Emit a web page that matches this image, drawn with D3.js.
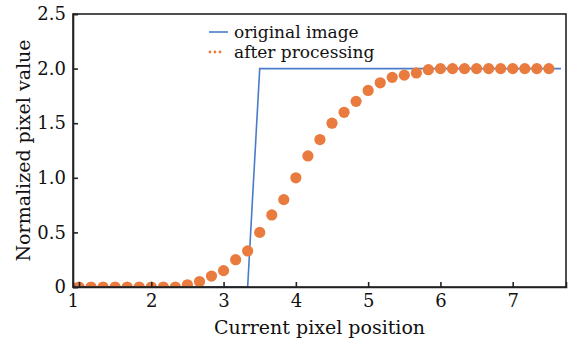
<!DOCTYPE html>
<html>
<head>
<meta charset="utf-8">
<script src="https://cdn.jsdelivr.net/npm/d3@7"></script>
<style>
  body { margin: 0; background: #fff; }
</style>
</head>
<body>
<div id="chart"></div>
<script>
// data
var stepX = [1, 3.333, 3.5, 7.667];            // original image (step edge)
var stepY = [0, 0, 2, 2];

var procX = [1.000, 1.167, 1.333, 1.500, 1.667, 1.833, 2.000, 2.167, 2.333, 2.500,
             2.667, 2.833, 3.000, 3.167, 3.333, 3.500, 3.667, 3.833, 4.000, 4.167,
             4.333, 4.500, 4.667, 4.833, 5.000, 5.167, 5.333, 5.500, 5.667, 5.833,
             6.000, 6.167, 6.333, 6.500, 6.667, 6.833, 7.000, 7.167, 7.333, 7.500];
var procY = [0, 0, 0, 0, 0, 0, 0, 0, 0, 0.02,
             0.05, 0.10, 0.15, 0.25, 0.33, 0.50, 0.66, 0.80, 1.00, 1.20,
             1.35, 1.50, 1.60, 1.70, 1.80, 1.87, 1.92, 1.94, 1.96, 1.99,
             2, 2, 2, 2, 2, 2, 2, 2, 2, 2];

var xTicks = [1, 2, 3, 4, 5, 6, 7];
var yTicks = [0, 0.5, 1.0, 1.5, 2.0, 2.5];
var seriesNames = ["original image", "after processing"];
var blue = "#4a7cc9", orange = "#ea7b3f";
var serif = "'DejaVu Serif', 'Liberation Serif', serif";

// set the dimensions and margins of the graph
var margin = {top: 14, right: 14, bottom: 54, left: 73},
  width = 580 - margin.left - margin.right,
  height = 341 - margin.top - margin.bottom;

var svg = d3.select("#chart")
.append("svg")
  .attr("width", 580)
  .attr("height", 341)
.append("g")
  .attr("transform", "translate(" + margin.left + "," + margin.top + ")");

var x = d3.scaleLinear().domain([0.917, 7.737]).range([0, width]);
var y = d3.scaleLinear().domain([0, 2.5]).range([height, 0]);

svg.append("clipPath").attr("id", "plotclip")
  .append("rect").attr("width", width).attr("height", height);

// line: original image
var line = d3.line().x((d) => x(d[0])).y((d) => y(d[1]));
svg.append("path")
  .datum(d3.zip(stepX, stepY))
  .attr("clip-path", "url(#plotclip)")
  .attr("d", line)
  .attr("fill", "none")
  .attr("stroke", blue)
  .attr("stroke-width", 1.6);

// dots: after processing
svg.append("g")
  .attr("clip-path", "url(#plotclip)")
  .selectAll("circle")
  .data(d3.zip(procX, procY))
  .enter()
  .append("circle")
  .attr("cx", (d) => x(d[0]))
  .attr("cy", (d) => y(d[1]))
  .attr("r", 5.6)
  .attr("fill", orange);

// axes, ticks pointing inward
var xAxis = svg.append("g")
  .attr("transform", "translate(0," + height + ")")
  .call(d3.axisBottom(x).tickValues(xTicks).tickSize(-5).tickPadding(7).tickFormat(d3.format("d")));
xAxis.selectAll("text").filter((d) => d === 1).attr("dx", "-0.35em");

var yAxis = svg.append("g")
  .call(d3.axisLeft(y).tickValues(yTicks).tickSize(-5).tickPadding(7)
    .tickFormat((d) => d === 0 ? "0" : d3.format(".1f")(d)));

svg.selectAll(".tick text")
  .attr("font-family", serif).attr("font-size", 18).attr("fill", "#111");
svg.selectAll(".domain, .tick line").attr("stroke", "#222").attr("stroke-width", 1.6);

// frame
svg.append("rect")
  .attr("width", width).attr("height", height)
  .attr("fill", "none").attr("stroke", "#222").attr("stroke-width", 1.6);

// axis titles
svg.append("text")
  .attr("x", width / 2).attr("y", height + 47)
  .attr("text-anchor", "middle")
  .attr("font-family", serif).attr("font-size", 19).attr("fill", "#111")
  .text("Current pixel position");

svg.append("text")
  .attr("transform", "rotate(-90)")
  .attr("x", -height / 2).attr("y", -43)
  .attr("text-anchor", "middle")
  .attr("font-family", serif).attr("font-size", 19).attr("fill", "#111")
  .text("Normalized pixel value");

// legend
var lg = svg.append("g").attr("transform", "translate(136,18)");
lg.append("line").attr("x1", 0).attr("x2", 19).attr("y1", 0).attr("y2", 0)
  .attr("stroke", blue).attr("stroke-width", 1.6);
lg.selectAll("circle.leg").data([0, 5, 10]).enter().append("circle")
  .attr("cx", (d) => d + 1).attr("cy", 20).attr("r", 1.4).attr("fill", orange);
lg.selectAll("text").data(seriesNames).enter().append("text")
  .attr("x", 25).attr("y", (d, i) => i * 20)
  .attr("dy", "0.35em")
  .attr("font-family", serif).attr("font-size", 17).attr("fill", "#111")
  .text((d) => d);
</script>
</body>
</html>
